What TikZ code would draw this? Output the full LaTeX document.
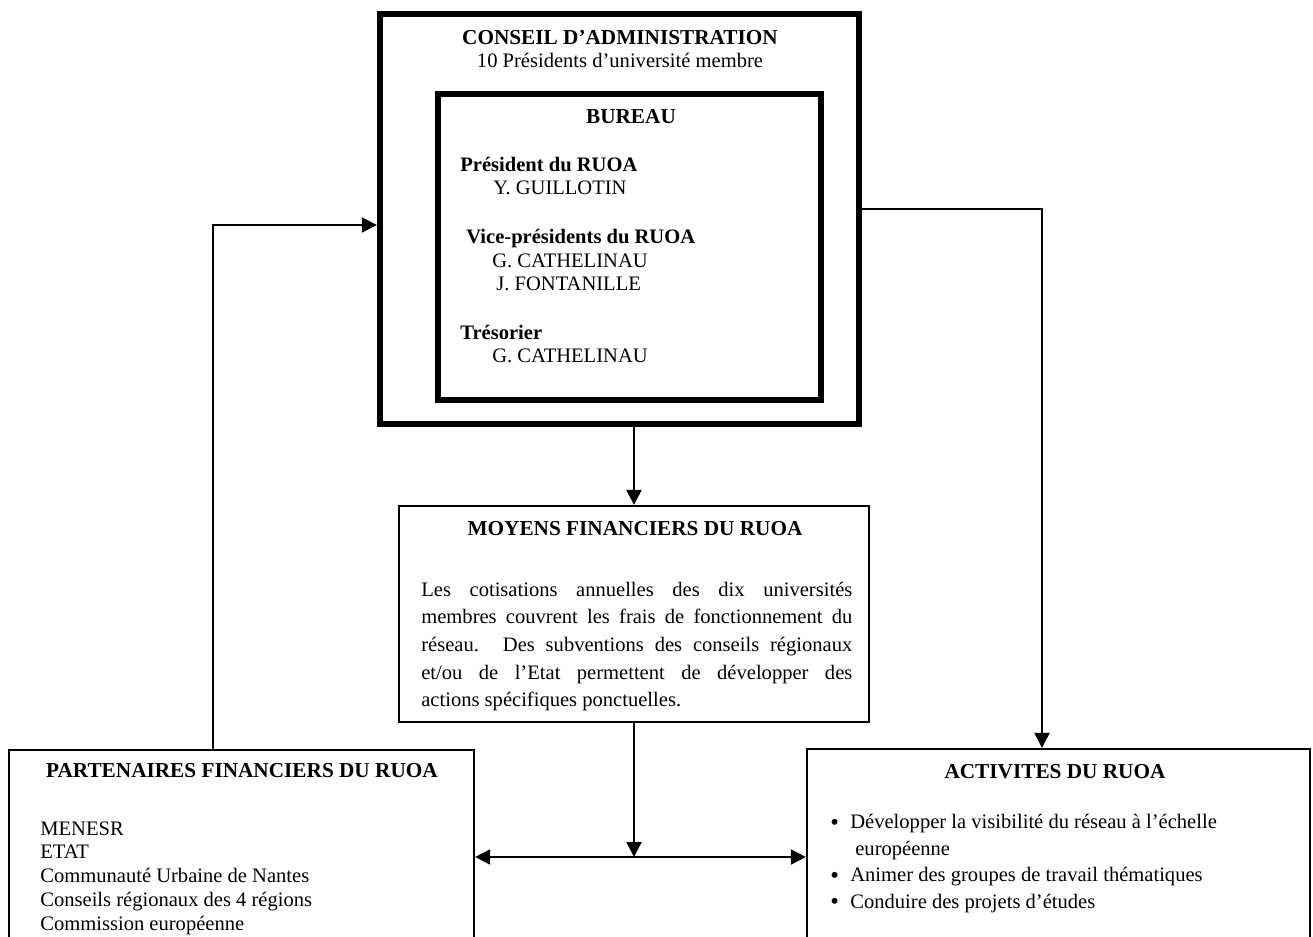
\documentclass[tikz,border=0pt]{standalone}
\usepackage{fontspec}
\setmainfont{Liberation Serif}
\usepackage{tikz}
\usetikzlibrary{arrows.meta}

\begin{document}
\begin{tikzpicture}[
		cadrefort/.style={draw,line width=3.6pt,inner sep=0pt},
		cadre/.style={draw,line width=1.3pt,inner sep=0pt},
		titre/.style={anchor=base,inner sep=0pt,font=\fontsize{12.1}{14}\selectfont\bfseries},
		texte/.style={anchor=base west,inner sep=0pt,align=left,font=\fontsize{11.7}{13.4}\selectfont},
		fleche/.style={line width=1.3pt,-{Triangle[length=8.5pt,width=8.5pt]}}
	]
			\useasboundingbox (0,0) rectangle (26.26,-18.74);
			
			% les cadres
			\node[cadrefort,minimum width=9.58cm,minimum height=8.2cm] (conseil) at (12.39,-4.38) {};
			\node[cadrefort,minimum width=7.66cm,minimum height=6.12cm] (bureau) at (12.59,-4.94) {};
			\node[cadre,minimum width=9.4cm,minimum height=4.32cm] (moyens) at (12.68,-12.28) {};
			\node[cadre,minimum width=9.3cm,minimum height=4.2cm] (partenaires) at (4.83,-17.1) {};
			\node[cadre,minimum width=10.06cm,minimum height=4.22cm] (activites) at (21.17,-17.09) {};
			
			% conseil et bureau (base = derniere ligne)
			\node[titre] (conseiltitre) at (12.4,-0.9) {CONSEIL D’ADMINISTRATION};
			\node[titre,font=\fontsize{11.7}{14}\selectfont] (conseilsous) at (12.4,-1.36) {10 Présidents d’université membre};
			\node[titre] (bureautitre) at (12.62,-2.48) {BUREAU};
			\node[texte] (president) at (9.2,-3.9) {\textbf{Président du RUOA}\\\hspace{0.66cm}Y. GUILLOTIN};
			\node[texte] (vice) at (9.32,-5.82) {\textbf{Vice-présidents du RUOA}\\\hspace{0.52cm}G. CATHELINAU\\\hspace{0.6cm}J. FONTANILLE};
			\node[texte] (tresorier) at (9.2,-7.26) {\textbf{Trésorier}\\\hspace{0.64cm}G. CATHELINAU};
			
			% moyens
			\node[titre] (moyenstitre) at (12.7,-10.7) {MOYENS FINANCIERS DU RUOA};
			\node[texte,text width=8.62cm,align=justify,font=\fontsize{11.7}{15.76}\selectfont] (moyenstexte) at (8.42,-11.92) {Les cotisations annuelles des dix universités\linebreak membres couvrent les frais de fonctionnement du\linebreak réseau. Des subventions des conseils régionaux\linebreak et/ou de l’Etat permettent de développer des\linebreak actions spécifiques ponctuelles.};
			
			% partenaires
			\node[titre] (partenairestitre) at (4.84,-15.54) {PARTENAIRES FINANCIERS DU RUOA};
			\node[texte,font=\fontsize{11.7}{13.5}\selectfont] (partenaireliste) at (0.8,-18.6) {MENESR\\ETAT\\Communauté Urbaine de Nantes\\Conseils régionaux des 4 régions\\Commission européenne};
			
			% activites
			\node[titre] (activitestitre) at (21.1,-15.56) {ACTIVITES DU RUOA};
			\node[texte,font=\fontsize{11.7}{15}\selectfont] (activiteliste) at (16.6,-18.16) {\makebox[0.4cm][l]{\raisebox{-0.8pt}{\fontsize{14}{15}\selectfont\textbullet}}Développer la visibilité du réseau à l’échelle\\\hspace{0.5cm}européenne\\\makebox[0.4cm][l]{\raisebox{-0.8pt}{\fontsize{14}{15}\selectfont\textbullet}}Animer des groupes de travail thématiques\\\makebox[0.4cm][l]{\raisebox{-0.8pt}{\fontsize{14}{15}\selectfont\textbullet}}Conduire des projets d’études};
			
			% fleches
			\coordinate (coinG) at (4.26,-4.5);
			\coordinate (coinD) at (20.84,-4.18);
			\coordinate (jonction) at (12.68,-17.14);
			\draw[fleche] (partenaires.north -| coinG) -- (coinG) -- (coinG -| conseil.west);
			\draw[fleche] (conseil.east |- coinD) -- (coinD) -- (coinD |- activites.north);
			\draw[fleche] (moyens.north |- conseil.south) -- (moyens.north);
			\draw[fleche] (moyens.south) -- (jonction);
			\draw[fleche,{Triangle[length=8.5pt,width=8.5pt]}-{Triangle[length=8.5pt,width=8.5pt]}] (jonction -| partenaires.east) -- (jonction -| activites.west);
		\end{tikzpicture}
\end{document}
